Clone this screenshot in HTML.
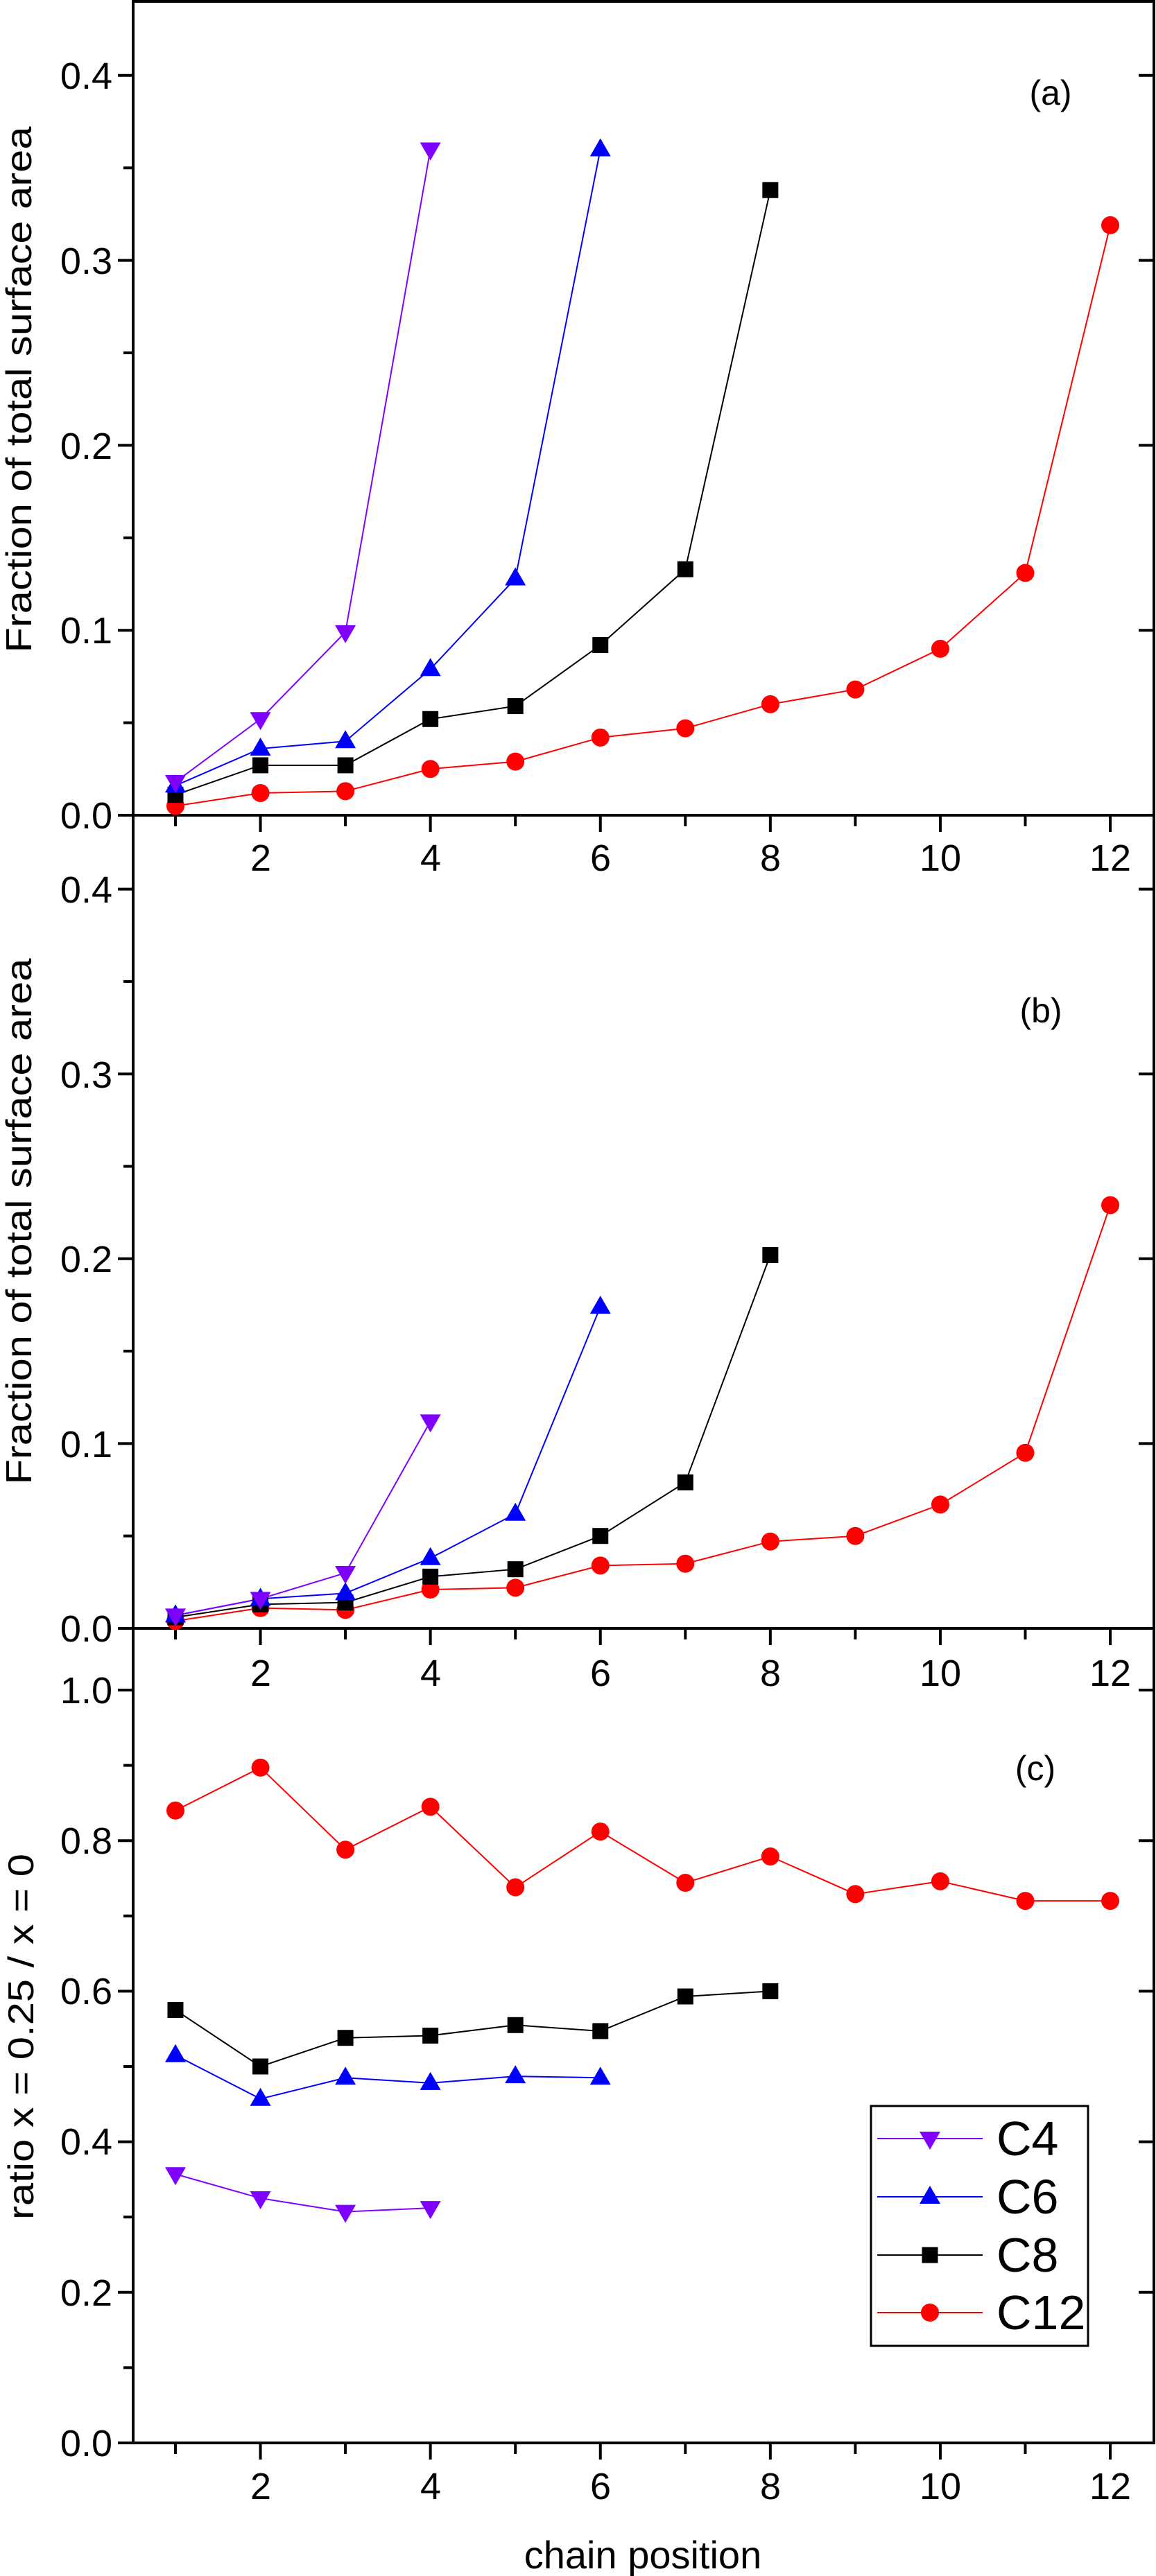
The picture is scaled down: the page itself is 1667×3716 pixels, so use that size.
<!DOCTYPE html>
<html><head><meta charset="utf-8"><style>html,body{margin:0;padding:0;background:#fff}svg{display:block}</style></head>
<body>
<svg id="s" width="1667" height="3716" viewBox="0 0 1667 3716" xmlns="http://www.w3.org/2000/svg" font-family="Liberation Sans, Arial, sans-serif">
<g id="axes" stroke="#000" stroke-width="4" fill="none">
<line x1="192" y1="2" x2="1664" y2="2"/>
<line x1="192" y1="0" x2="192" y2="3526"/>
<line x1="1664" y1="0" x2="1664" y2="3526"/>
<line x1="190" y1="1176" x2="1666" y2="1176"/>
<line x1="190" y1="2349" x2="1666" y2="2349"/>
<line x1="190" y1="3524" x2="1666" y2="3524"/>
</g>
<g id="ticks" stroke="#000" stroke-width="4"></g>
<g font-size="54" text-anchor="end" fill="#000">
<text x="162" y="128">0.4</text><text x="162" y="395">0.3</text><text x="162" y="662">0.2</text><text x="162" y="928">0.1</text><text x="162" y="1195">0.0</text>
<text x="162" y="1302">0.4</text><text x="162" y="1569">0.3</text><text x="162" y="1835">0.2</text><text x="162" y="2102">0.1</text><text x="162" y="2368">0.0</text>
<text x="162" y="2457">1.0</text><text x="162" y="2674">0.8</text><text x="162" y="2891">0.6</text><text x="162" y="3108">0.4</text><text x="162" y="3326">0.2</text><text x="162" y="3543">0.0</text>
</g>
<g font-size="54" text-anchor="middle" fill="#000">
<text x="376" y="1256">2</text><text x="621" y="1256">4</text><text x="866" y="1256">6</text><text x="1111" y="1256">8</text><text x="1356" y="1256">10</text><text x="1601" y="1256">12</text>
<text x="376" y="2432">2</text><text x="621" y="2432">4</text><text x="866" y="2432">6</text><text x="1111" y="2432">8</text><text x="1356" y="2432">10</text><text x="1601" y="2432">12</text>
<text x="376" y="3605">2</text><text x="621" y="3605">4</text><text x="866" y="3605">6</text><text x="1111" y="3605">8</text><text x="1356" y="3605">10</text><text x="1601" y="3605">12</text>
</g>
<g font-size="50" text-anchor="middle" fill="#000">
<text x="1515" y="151">(a)</text><text x="1501" y="1475">(b)</text><text x="1493" y="2568">(c)</text>
</g>
<g font-size="52" text-anchor="middle" fill="#000">
<text transform="translate(45,562) rotate(-90)" textLength="759" lengthAdjust="spacingAndGlyphs">Fraction of total surface area</text>
<text transform="translate(45,1762) rotate(-90)" textLength="759" lengthAdjust="spacingAndGlyphs">Fraction of total surface area</text>
<text transform="translate(48,2938) rotate(-90)" textLength="528" lengthAdjust="spacingAndGlyphs">ratio x = 0.25 / x = 0</text>
<text x="927" y="3705" font-size="56">chain position</text>
</g>
<rect x="1256" y="3038" width="313" height="346" fill="#fff" stroke="#000" stroke-width="3"/>
<g font-size="70" fill="#000">
<text x="1437" y="3109">C4</text><text x="1437" y="3193">C6</text><text x="1437" y="3277">C8</text><text x="1437" y="3360">C12</text>
</g>
<g id="series"></g>
</svg>
<script>
(function(){
var NS="http://www.w3.org/2000/svg";
function el(p,n,a){var e=document.createElementNS(NS,n);for(var k in a)e.setAttribute(k,a[k]);p.appendChild(e);return e;}
var T=document.getElementById('ticks'), S=document.getElementById('series');
function X(i){return 253+(i-1)*122.55;}
// x ticks
[1176,2349,3524].forEach(function(y){for(var i=1;i<=12;i++){el(T,'line',{x1:X(i),x2:X(i),y1:y,y2:y+(i%2==0?24:16)});}});
// y ticks
function yt(y0,scale,maj,min,top){for(var v=0;v<=top+1e-9;v+=min){var y=y0-v*scale;var isM=Math.abs(Math.round(v/maj)*maj-v)<1e-6;el(T,'line',{x1:192,x2:192-(isM?22:14),y1:y,y2:y});if(isM)el(T,'line',{x1:1664,x2:1642,y1:y,y2:y});}}
yt(1176,2668,0.1,0.05,0.42);yt(2349,2666,0.1,0.05,0.42);yt(3524,1086,0.2,0.1,1.0);
var col={C4:'#8000ff',C6:'#0000ff',C8:'#000000',C12:'#ff0000'};
function mk(c,x,y,k){
 if(k=='C4')el(S,'polygon',{points:(x-15)+','+(y-10)+' '+(x+15)+','+(y-10)+' '+x+','+(y+16),fill:c});
 else if(k=='C6')el(S,'polygon',{points:(x-15)+','+(y+10)+' '+(x+15)+','+(y+10)+' '+x+','+(y-16),fill:c});
 else if(k=='C8')el(S,'rect',{x:x-11.5,y:y-11.5,width:23,height:23,fill:c});
 else el(S,'circle',{cx:x,cy:y,r:13,fill:c});
}
function panel(y0,sc,d){
 ['C12','C8','C6','C4'].forEach(function(k){var a=d[k];var pts=a.map(function(v,i){return X(i+1)+','+(y0-v*sc);}).join(' ');
 el(S,'polyline',{points:pts,fill:'none',stroke:col[k],'stroke-width':2});});
 ['C12','C8','C6','C4'].forEach(function(k){d[k].forEach(function(v,i){mk(col[k],X(i+1),y0-v*sc,k);});});
}
panel(1176,2668,{C4:[0.018,0.052,0.099,0.36],C6:[0.016,0.036,0.040,0.079,0.128,0.36],
 C8:[0.011,0.027,0.027,0.052,0.059,0.092,0.133,0.338],
 C12:[0.005,0.012,0.013,0.025,0.029,0.042,0.047,0.060,0.068,0.090,0.131,0.319]});
panel(2349,2666,{C4:[0.007,0.016,0.030,0.112],C6:[0.007,0.016,0.019,0.038,0.062,0.174],
 C8:[0.006,0.013,0.014,0.028,0.032,0.050,0.079,0.202],
 C12:[0.004,0.011,0.010,0.021,0.022,0.034,0.035,0.047,0.050,0.067,0.095,0.229]});
panel(3524,1086,{C4:[0.357,0.325,0.307,0.312],C6:[0.515,0.457,0.485,0.478,0.487,0.485],
 C8:[0.575,0.500,0.538,0.541,0.555,0.547,0.593,0.600],
 C12:[0.840,0.897,0.788,0.845,0.738,0.812,0.744,0.779,0.729,0.746,0.720,0.720]});
// legend
var ly={C4:3085,C6:3169,C8:3253,C12:3336};
for(var k in ly){el(S,'line',{x1:1265,x2:1417,y1:ly[k],y2:ly[k],stroke:col[k],'stroke-width':2});mk(col[k],1341,ly[k],k);}
})();
</script>
</body></html>
